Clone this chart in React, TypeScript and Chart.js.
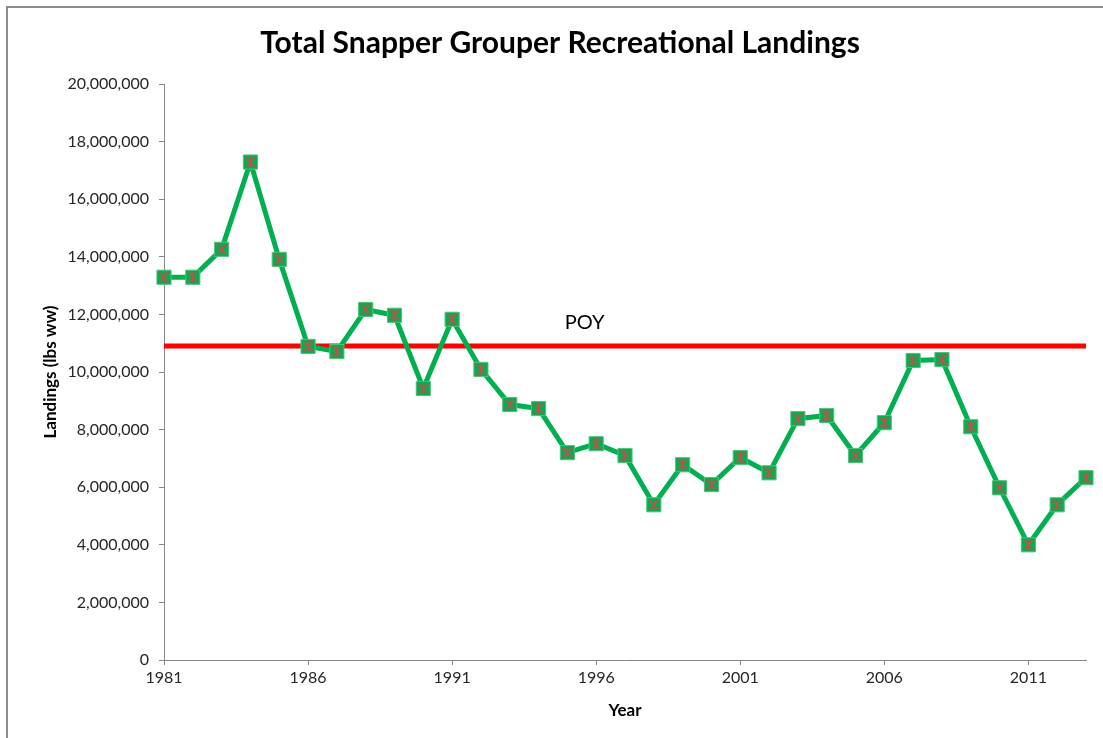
import React, { useEffect, useRef } from "react";
import { Chart, registerables } from "chart.js";

Chart.register(...registerables);

const years: string[] = [
  "1981","1982","1983","1984","1985","1986","1987","1988","1989","1990",
  "1991","1992","1993","1994","1995","1996","1997","1998","1999","2000",
  "2001","2002","2003","2004","2005","2006","2007","2008","2009","2010",
  "2011","2012","2013",
];

const landings: number[] = [
  13290000, 13290000, 14260000, 17290000, 13910000, 10890000, 10710000, 12170000, 11970000, 9430000,
  11830000, 10090000, 8870000, 8730000, 7200000, 7510000, 7100000, 5390000, 6780000, 6090000,
  7030000, 6500000, 8380000, 8490000, 7100000, 8240000, 10400000, 10430000, 8100000, 5980000,
  4000000, 5390000, 6330000,
];

const poyValue = 10900000;
const poyLabel = "POY";
const poyLabelYear = "1995";
const poyLabelOffsetYears = 0.6;
const poyLabelValue = 11700000;

const yTicksMax = 20000000;
const yTickStep = 2000000;

const chartTitle = "Total Snapper Grouper Recreational Landings";

const FONT = "Lato, 'Open Sans', sans-serif";

export default function App() {
  const ref = useRef<HTMLCanvasElement | null>(null);

  useEffect(() => {
    document.body.style.margin = "0";
    const canvas = ref.current;
    if (!canvas) return;

    const overlayPlugin = {
      id: "overlay",
      afterDatasetsDraw(chart: any) {
        const ctx = chart.ctx;
        const meta = chart.getDatasetMeta(0);
        ctx.save();
        ctx.strokeStyle = "#c0504d";
        ctx.lineWidth = 1.5;
        const s = 5;
        meta.data.forEach((pt: any) => {
          const { x, y } = pt.getProps(["x", "y"], true);
          ctx.beginPath();
          ctx.moveTo(x - s, y - s);
          ctx.lineTo(x + s, y + s);
          ctx.moveTo(x + s, y - s);
          ctx.lineTo(x - s, y + s);
          ctx.moveTo(x, y - s - 1);
          ctx.lineTo(x, y + s + 1);
          ctx.stroke();
        });
        // POY label
        const xs = chart.scales.x;
        const ys = chart.scales.y;
        const i = years.indexOf(poyLabelYear);
        const px = xs.getPixelForValue(i) + poyLabelOffsetYears * (xs.getPixelForValue(1) - xs.getPixelForValue(0));
        const py = ys.getPixelForValue(poyLabelValue);
        ctx.fillStyle = "#000";
        ctx.font = `20px ${FONT}`;
        ctx.textAlign = "center";
        ctx.textBaseline = "middle";
        ctx.fillText(poyLabel, px, py);
        // Title
        ctx.font = `bold 30px ${FONT}`;
        ctx.fillText(chartTitle, 560, 43);
        ctx.restore();
      },
    };

    const chart = new Chart(canvas, {
      type: "line",
      data: {
        labels: years,
        datasets: [
          {
            label: "Landings",
            data: landings,
            borderColor: "#00b050",
            borderWidth: 5,
            pointStyle: "rect",
            pointRadius: 10,
            pointBackgroundColor: "#00b050",
            pointBorderColor: "#4fc27c",
            pointBorderWidth: 1,
            tension: 0,
          },
          {
            label: "POY",
            data: years.map(() => poyValue),
            borderColor: "#ff0000",
            borderWidth: 5,
            pointRadius: 0,
            tension: 0,
          },
        ],
      },
      options: {
        responsive: false,
        animation: false,
        layout: { padding: { left: 0, right: 17, top: 84, bottom: 0 } },
        plugins: {
          legend: { display: false },
          tooltip: { enabled: false },
          title: { display: false },
        },
        scales: {
          x: {
            type: "category",
            offset: false,
            border: { display: true, color: "#868686", width: 1 },
            grid: {
              drawOnChartArea: false,
              drawTicks: true,
              tickLength: 5,
              color: (c: any) => (c.index % 5 === 0 ? "#868686" : "rgba(0,0,0,0)"),
            },
            ticks: {
              autoSkip: false,
              maxRotation: 0,
              minRotation: 0,
              padding: 3,
              color: "#262626",
              font: { family: FONT, size: 16 },
              callback: (_v: any, i: number) => (i % 5 === 0 ? years[i] : ""),
            },
            title: {
              display: true,
              text: "Year",
              color: "#000",
              font: { family: FONT, size: 17, weight: "bold", lineHeight: 1.2 },
              padding: { top: 0, bottom: 17 },
            },
            afterFit: (s: any) => {
              s.height = 78;
            },
          },
          y: {
            min: 0,
            max: yTicksMax,
            border: { display: true, color: "#868686", width: 1 },
            grid: {
              drawOnChartArea: false,
              drawTicks: true,
              tickLength: 5,
              color: "#868686",
            },
            ticks: {
              stepSize: yTickStep,
              padding: 10,
              color: "#262626",
              font: { family: FONT, size: 16 },
              callback: (v: any) => Number(v).toLocaleString("en-US"),
            },
            title: {
              display: true,
              text: "Landings (lbs ww)",
              color: "#000",
              font: { family: FONT, size: 17, weight: "bold", lineHeight: 1.2 },
              padding: { top: 40, bottom: 0 },
            },
            afterFit: (s: any) => {
              s.width = 164;
            },
          },
        },
      },
      plugins: [overlayPlugin],
    });

    return () => chart.destroy();
  }, []);

  return (
    <div style={{ position: "relative", width: 1103, height: 738, overflow: "hidden", background: "#fff" }}>
      <canvas ref={ref} width={1103} height={738} style={{ display: "block" }} />
      <div
        style={{
          position: "absolute",
          left: 6,
          top: 6,
          width: 1200,
          height: 900,
          borderLeft: "2px solid #8c8c8c",
          borderTop: "2px solid #8c8c8c",
          pointerEvents: "none",
        }}
      />
    </div>
  );
}
